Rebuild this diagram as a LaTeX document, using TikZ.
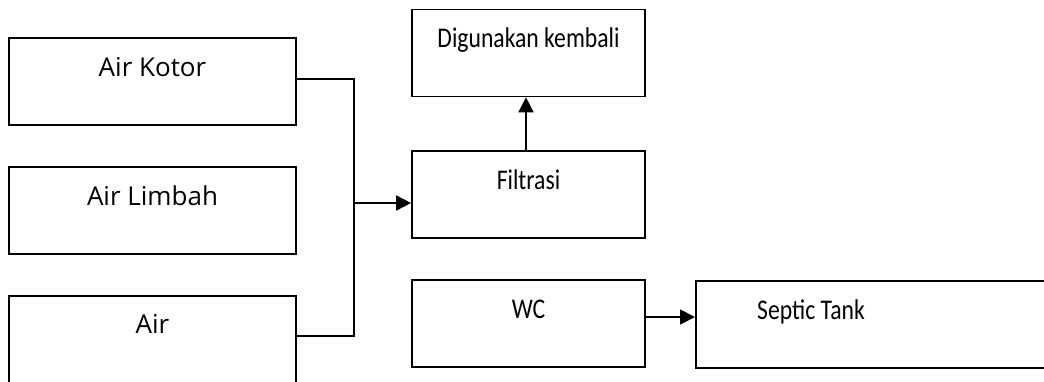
\documentclass[tikz,border=0pt]{standalone}
\usepackage{fontspec}
\usepackage{graphicx}
\usetikzlibrary{arrows.meta}
\newfontfamily\srcfont{Open Sans}
\newfontfamily\procfont{Carlito}
\newcommand{\proctext}[1]{\scalebox{0.83}[1]{\procfont\fontsize{28.5}{34}\selectfont #1}}
\tikzset{
  box/.style={draw=black, line width=1.7pt, rectangle, inner sep=0pt},
  srcbox/.style={box, minimum width=287pt, minimum height=87pt},
  procbox/.style={box, minimum width=233pt, minimum height=87pt},
  srclabel/.style={anchor=base, inner sep=0pt, font=\srcfont\fontsize{26}{31}\selectfont},
  proclabel/.style={anchor=base, inner sep=0pt},
  flow/.style={draw=black, line width=1.7pt},
  arrow/.style={flow, -{Triangle[length=15pt, width=15pt]}}
}
\begin{document}
\begin{tikzpicture}[x=1pt, y=-1pt]
  \useasboundingbox (0,0) rectangle (1044,381);
  \clip (0,0) rectangle (1044,381);
  \fill[white] (0,0) rectangle (1044,381);

  % source boxes on the left
  \node[srcbox] (kotor) at (152.5,81.5) {};
  \node[srcbox] (limbah) at (152.5,210.5) {};
  \node[srcbox, minimum height=100pt, anchor=north] (air) at (152.5,295) {};
  \node[srclabel] (tkotor) at ([yshift=-39pt]kotor.north) {Air Kotor};
  \node[srclabel] (tlimbah) at ([yshift=-39pt]limbah.north) {Air Limbah};
  \node[srclabel] (tair) at ([yshift=-38pt]air.north) {Air};

  % treatment boxes
  \node[procbox] (reuse) at (528.5,53) {};
  \node[procbox] (filter) at (528.5,194.5) {};
  \node[procbox] (wc) at (528.5,323.5) {};
  \node[box, minimum width=380pt, minimum height=87pt, anchor=north west] (septic) at (695,280) {};
  \node[proclabel] (treuse) at ([yshift=-39pt]reuse.north) {\proctext{Digunakan kembali}};
  \node[proclabel] (tfilter) at ([yshift=-39pt]filter.north) {\proctext{Filtrasi}};
  \node[proclabel] (twc) at ([yshift=-39pt]wc.north) {\proctext{WC}};
  \node[proclabel] (tseptic) at (811,319) {\proctext{Septic Tank}};

  % collector line from the sources into the filter
  \coordinate (jtop) at (354,79);
  \coordinate (jbot) at (354,336);
  \coordinate (jmid) at (354,203);
  \draw[flow] (kotor.east |- jtop) -- (jtop) -- (jbot) -- (air.east |- jbot);
  \draw[arrow] (jmid) -- (filter.west |- jmid);

  % filter output and toilet drain
  \draw[arrow] (filter.north -| 526,0) -- (reuse.south -| 526,0);
  \coordinate (wcout) at (645,317);
  \draw[arrow] (wcout) -- (septic.west |- wcout);
\end{tikzpicture}
\end{document}
